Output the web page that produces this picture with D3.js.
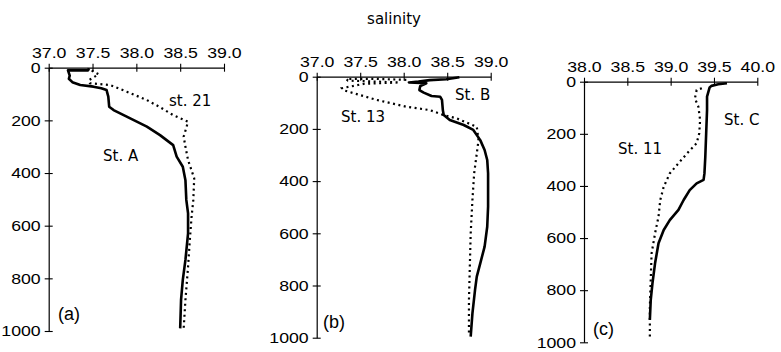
<!DOCTYPE html>
<html>
<head>
<meta charset="utf-8">
<script src="https://cdn.jsdelivr.net/npm/d3@7"></script>
<style>
  body { margin: 0; background: #fff; }
  .tick text, .panel-tag { font-family: "Liberation Sans", Arial, sans-serif; fill: #000; }
  .st-label, .title { font-family: "Comic Sans MS", "DejaVu Sans", sans-serif; fill: #000; }
</style>
</head>
<body>
<div id="chart"></div>
<script>
// salinity profiles, [salinity, depth (m)]
const stA = [[37.46,2],[37.45,10],[37.22,10],[37.24,30],[37.23,42],[37.27,55],[37.36,66],[37.51,72],[37.60,78],[37.66,85],[37.68,110],[37.69,148],[37.74,161],[37.89,186],[38.12,224],[38.27,256],[38.42,294],[38.46,338],[38.53,376],[38.56,427],[38.57,502],[38.59,553],[38.59,629],[38.56,730],[38.53,806],[38.51,882],[38.50,990]]
const st21 = [[37.49,11],[37.57,25],[37.46,47],[37.47,59],[37.70,66],[37.89,91],[38.12,123],[38.27,150],[38.42,180],[38.59,205],[38.54,262],[38.56,300],[38.59,351],[38.66,420],[38.65,502],[38.63,566],[38.61,655],[38.59,756],[38.56,882],[38.54,990]]
const stB = [[38.64,2],[38.49,10],[38.30,13],[38.17,19],[38.06,22],[38.26,25],[38.19,36],[38.18,51],[38.23,61],[38.32,74],[38.42,77],[38.44,89],[38.45,128],[38.46,147],[38.53,166],[38.69,185],[38.80,204],[38.88,243],[38.93,281],[38.96,319],[38.97,370],[38.97,498],[38.96,575],[38.93,651],[38.88,715],[38.84,766],[38.82,817],[38.79,907],[38.77,996]]
const st13 = [[38.03,12],[37.65,8],[37.34,9],[37.36,15],[37.95,22],[37.55,27],[37.29,44],[37.31,52],[37.69,89],[38.03,115],[38.30,128],[38.46,147],[38.61,160],[38.84,192],[38.86,243],[38.84,294],[38.81,370],[38.79,472],[38.77,600],[38.76,728],[38.75,856],[38.75,983]]
const stC = [[39.65,6],[39.55,10],[39.47,16],[39.45,22],[39.42,57],[39.42,109],[39.41,198],[39.40,288],[39.39,352],[39.38,377],[39.30,390],[39.22,416],[39.15,454],[39.09,492],[38.99,531],[38.92,569],[38.86,620],[38.82,697],[38.79,774],[38.77,838],[38.76,914]]
const st11 = [[39.36,25],[39.30,32],[39.28,64],[39.32,96],[39.34,147],[39.33,198],[39.30,236],[39.19,275],[39.09,313],[38.99,352],[38.92,403],[38.88,454],[38.86,518],[38.82,582],[38.78,659],[38.77,761],[38.76,864],[38.76,991]]

const salTicksAB = [37.0, 37.5, 38.0, 38.5, 39.0]
const salTicksC = [38.0, 38.5, 39.0, 39.5, 40.0]
const depthTicks = [0, 200, 400, 600, 800, 1000]

const panels = [
  {tag: "(a)", ticks: salTicksAB, x0: 48.7, x1: 224, y0: 67.7, y1: 331, solid: stA, dotted: st21,
   labels: [{t: "st. 21", x: 169, y: 106}, {t: "St. A", x: 103, y: 161}], tagPos: [58, 320]},
  {tag: "(b)", ticks: salTicksAB, x0: 316.7, x1: 490.7, y0: 76.7, y1: 337.7, solid: stB, dotted: st13,
   labels: [{t: "St. B", x: 455, y: 100}, {t: "St. 13", x: 341, y: 122}], tagPos: [323, 328]},
  {tag: "(c)", ticks: salTicksC, x0: 584, x1: 757.3, y0: 81.7, y1: 342.3, solid: stC, dotted: st11,
   labels: [{t: "St. C", x: 724, y: 125}, {t: "St. 11", x: 618, y: 154}], tagPos: [593, 335]}
]

const width = 781, height = 352
const stretch = 1.18

const svg = d3.select("#chart").append("svg")
  .attr("width", width)
  .attr("height", height)

svg.append("text")
  .attr("class", "title")
  .attr("x", 394)
  .attr("y", 24)
  .attr("text-anchor", "middle")
  .style("font-size", "15px")
  .text("salinity")

panels.forEach(p => {
  const x = d3.scaleLinear().domain([p.ticks[0], p.ticks[p.ticks.length - 1]]).range([p.x0, p.x1])
  const y = d3.scaleLinear().domain([0, 1000]).range([p.y0, p.y1])
  const g = svg.append("g")

  const xAxis = g.append("g")
    .attr("transform", `translate(0,${p.y0})`)
    .call(d3.axisTop(x).tickValues(p.ticks).tickFormat(d3.format(".1f")).tickSizeInner(4).tickSizeOuter(0).tickPadding(6))
  xAxis.selectAll(".tick line").attr("y1", 4)
  xAxis.selectAll(".tick text")
    .style("font-size", "15px")
    .attr("transform", `scale(${stretch},1)`)

  const yAxis = g.append("g")
    .attr("transform", `translate(${p.x0},0)`)
    .call(d3.axisLeft(y).tickValues(depthTicks).tickFormat(d3.format("d")).tickSizeInner(4).tickSizeOuter(0).tickPadding(4))
  yAxis.selectAll(".tick line").attr("x1", 4)
  yAxis.selectAll(".tick text")
    .style("font-size", "15px")
    .attr("x", 0)
    .attr("transform", `translate(-8,0) scale(${stretch},1)`)

  g.selectAll(".domain").attr("stroke-width", 1.2)
  g.selectAll(".tick line").attr("stroke-width", 1.1)

  const line = d3.line().x(d => x(d[0])).y(d => y(d[1]))

  g.append("path")
    .datum(p.dotted)
    .attr("fill", "none")
    .attr("stroke", "#000")
    .attr("stroke-width", 2.2)
    .attr("stroke-dasharray", "2,3.5")
    .attr("d", line)

  g.append("path")
    .datum(p.solid)
    .attr("fill", "none")
    .attr("stroke", "#000")
    .attr("stroke-width", 2.6)
    .attr("stroke-linejoin", "round")
    .attr("d", line)

  p.labels.forEach(l => {
    g.append("text")
      .attr("class", "st-label")
      .attr("x", l.x)
      .attr("y", l.y)
      .style("font-size", "15px")
      .text(l.t)
  })

  g.append("text")
    .attr("class", "panel-tag")
    .attr("x", p.tagPos[0])
    .attr("y", p.tagPos[1])
    .style("font-size", "18px")
    .text(p.tag)
})
</script>
</body>
</html>
